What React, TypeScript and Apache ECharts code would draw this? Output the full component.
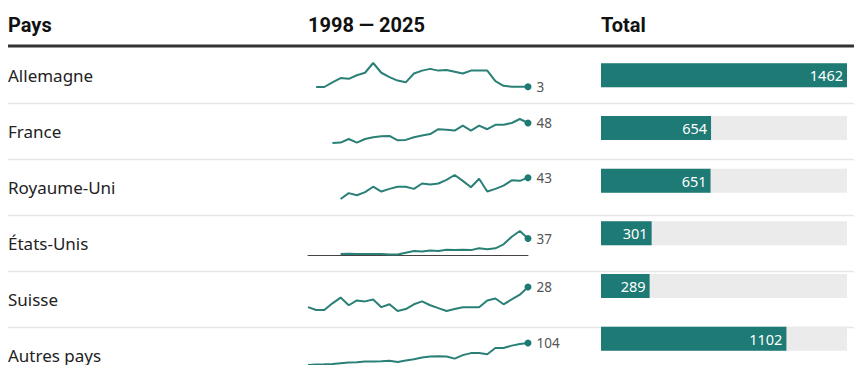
import { useEffect, useRef } from "react";
import * as echarts from "echarts";

const headers = ["Pays", "1998 — 2025", "Total"];
const countries = ["Allemagne", "France", "Royaume-Uni", "États-Unis", "Suisse", "Autres pays"];
const totals = [1462, 654, 651, 301, 289, 1102];
const yearMin = 1998;
const yearMax = 2025;
const startYears = [1999, 2001, 2002, 2002, 1998, 1998];

const allemagne = [2, 2, 26, 48, 44, 62, 75, 125, 75, 53, 35, 26, 71, 86, 95, 86, 89, 80, 71, 86, 86, 86, 32, 8, 3, 3, 3];
const france = [3, 4, 12, 4, 12, 16, 18, 19, 9, 10, 16, 20, 23, 34, 33, 31, 42, 31, 42, 34, 44, 44, 48, 57, 48];
const royaumeUni = [3, 14, 10, 16, 26, 17, 22, 26, 26, 22, 32, 30, 32, 39, 48, 37, 25, 41, 17, 22, 28, 38, 37, 43];
const etatsUnis = [2, 3, 2, 2, 2, 2, 1, 1, 5, 9, 8, 10, 9, 12, 11, 12, 11, 15, 13, 15, 24, 41, 54, 37];
const suisse = [7, 4, 4, 11, 17, 9, 14, 13, 15, 7, 10, 3, 5, 10, 13, 9, 6, 3, 5, 7, 7, 7, 14, 16, 10, 15, 20, 28];
const autres = [4, 6, 7, 9, 12, 15, 16, 20, 20, 21, 23, 18, 24, 30, 38, 43, 44, 43, 33, 49, 58, 59, 53, 81, 81, 92, 99, 104];

const seriesValues = [allemagne, france, royaumeUni, etatsUnis, suisse, autres];

const TEAL = "#1e7a74";
const LINE = "#2a8077";
const FONT = "'Noto Sans', 'Liberation Sans', sans-serif";
const HFONT = "Roboto, 'Liberation Sans', sans-serif";

export default function App() {
  const ref = useRef<HTMLDivElement>(null);
  useEffect(() => {
    const chart = echarts.init(ref.current!, null, { renderer: "svg" });
    const rowTop = 47;
    const rowH = 56;
    const sparkLeft = 308;
    const sparkWidth = 220;

    const grids: any[] = [];
    const xAxes: any[] = [];
    const yAxes: any[] = [];
    const series: any[] = [];

    seriesValues.forEach((vals, i) => {
      grids.push({ left: sparkLeft, width: sparkWidth, top: rowTop + i * rowH + 16, height: 24 });
      const isUS = i === 3;
      xAxes.push({
        type: "value",
        gridIndex: i,
        min: yearMin,
        max: yearMax,
        axisLine: { show: isUS, onZero: false, lineStyle: { color: "#444", width: 1 } },
        axisTick: { show: false },
        axisLabel: { show: false },
        splitLine: { show: false },
      });
      yAxes.push({
        type: "value",
        gridIndex: i,
        min: isUS ? 0 : "dataMin",
        max: "dataMax",
        show: false,
        splitLine: { show: false },
      });
      const last = vals.length - 1;
      series.push({
        type: "line",
        xAxisIndex: i,
        yAxisIndex: i,
        data: vals.map((v, k) => {
          const item: any = { value: [startYears[i] + k, v] };
          if (k === last) {
            item.label = {
              show: true,
              position: "right",
              distance: 5,
              formatter: String(v),
              color: "#555",
              fontSize: 13.5,
              fontFamily: FONT,
            };
          }
          return item;
        }),
        showSymbol: true,
        symbol: "circle",
        symbolSize: (_v: any, p: any) => (p.dataIndex === last ? 7 : 0),
        itemStyle: { color: TEAL },
        lineStyle: { color: LINE, width: 2 },
        label: { show: false },
        silent: true,
        z: 3,
      });
    });

    const barGrid = grids.length;
    grids.push({ left: 601, width: 246, top: 49, height: rowH * 6 });
    xAxes.push({ type: "value", gridIndex: barGrid, min: 0, max: Math.max(...totals), show: false, splitLine: { show: false } });
    yAxes.push({ type: "category", gridIndex: barGrid, data: countries, inverse: true, show: false });
    series.push({
      type: "bar",
      xAxisIndex: barGrid,
      yAxisIndex: barGrid,
      data: totals,
      barWidth: 24,
      showBackground: true,
      backgroundStyle: { color: "#ebebeb" },
      itemStyle: { color: TEAL },
      label: {
        show: true,
        position: "insideRight",
        distance: 4,
        color: "#fff",
        fontSize: 14.5,
        fontFamily: FONT,
      },
      silent: true,
    });

    const graphics: any[] = [];
    const headerX = [8, 308, 601];
    headers.forEach((h, i) => {
      graphics.push({
        type: "text",
        x: headerX[i],
        y: 25,
        style: { text: h, font: `bold 20px ${HFONT}`, fill: "#111", verticalAlign: "middle" },
      });
    });
    graphics.push({
      type: "line",
      shape: { x1: 8, y1: 46, x2: 854, y2: 46 },
      style: { stroke: "#333", lineWidth: 3 },
    });
    for (let i = 1; i < countries.length; i++) {
      const y = rowTop + i * rowH + 0.5;
      graphics.push({
        type: "line",
        shape: { x1: 8, y1: y, x2: 854, y2: y },
        style: { stroke: "#e8e8e8", lineWidth: 1.5 },
      });
    }
    countries.forEach((c, i) => {
      graphics.push({
        type: "text",
        x: 8,
        y: rowTop + i * rowH + 28,
        style: { text: c, fontSize: 17, fontFamily: FONT, fill: "#222", verticalAlign: "middle" },
      });
    });

    chart.setOption({
      animation: false,
      grid: grids,
      xAxis: xAxes,
      yAxis: yAxes,
      series,
      graphic: graphics,
    });
    return () => chart.dispose();
  }, []);
  return <div ref={ref} style={{ position: "fixed", left: 0, top: 0, width: 854, height: 365, background: "#fff" }} />;
}
